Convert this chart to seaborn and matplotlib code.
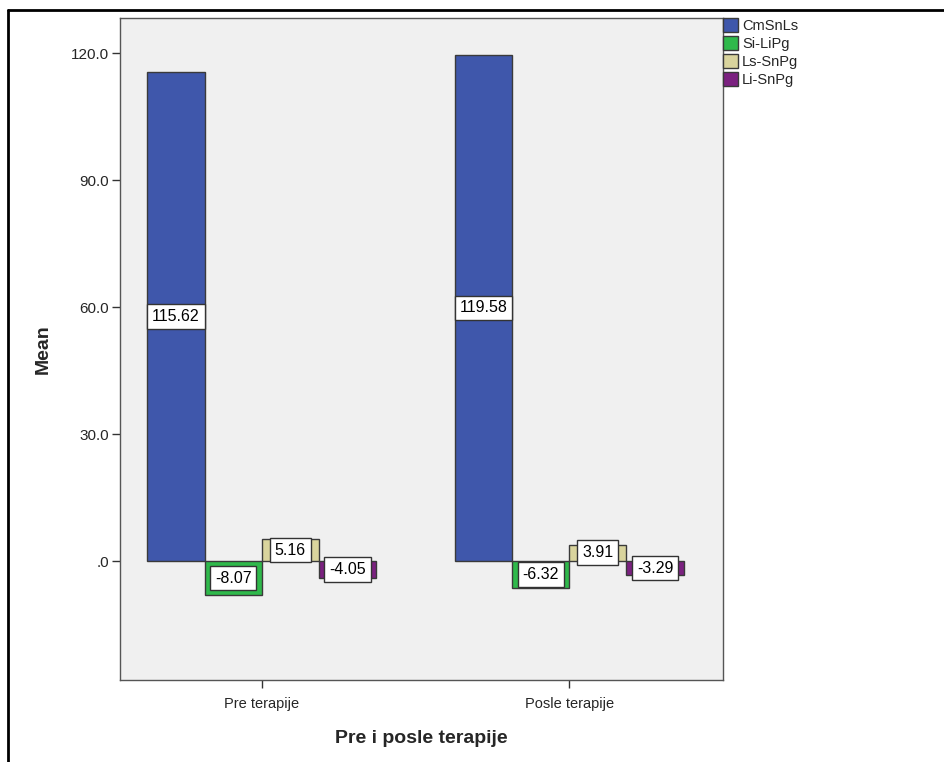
import pandas as pd
import matplotlib.pyplot as plt
import seaborn as sns
from matplotlib.lines import Line2D

# Data
groups = ['Pre terapije', 'Posle terapije']
measures = ['CmSnLs', 'Si-LiPg', 'Ls-SnPg', 'Li-SnPg']
pre_values = [115.62, -8.07, 5.16, -4.05]
post_values = [119.58, -6.32, 3.91, -3.29]
colors = ['#3F57AB', '#2FB94B', '#D9D49D', '#7B2180']

df = pd.DataFrame({
    'group': [groups[0]] * 4 + [groups[1]] * 4,
    'measure': measures * 2,
    'Mean': pre_values + post_values,
})

sns.set_style('white')
plt.rcParams['font.family'] = ['Liberation Sans', 'DejaVu Sans']

fig = plt.figure(figsize=(9.44, 7.62), dpi=100)
ax = fig.add_axes([120 / 944, 1 - 680 / 762, 603 / 944, 662 / 762])
ax.set_facecolor('#F0F0F0')

sns.barplot(data=df, x='group', y='Mean', hue='measure', order=groups,
            hue_order=measures, palette=colors, width=0.744, saturation=1,
            edgecolor='#3A3A3A', linewidth=1, ax=ax, errorbar=None)

# value labels in white boxes at bar centres
for cont in ax.containers:
    for bar in cont:
        h = bar.get_height()
        y = bar.get_y() + h / 2
        ax.text(bar.get_x() + bar.get_width() / 2, y, f'{bar.get_y() + h:.2f}',
                ha='center', va='center', fontsize=11.5, color='black',
                bbox=dict(boxstyle='square,pad=0.3', fc='white', ec='#333333', lw=1))

ax.set_xlim(-0.461, 0.5 + 1)
ax.set_ylim(-28.1, 128.3)
ax.set_yticks([0, 30, 60, 90, 120])
ax.set_yticklabels(['.0', '30.0', '60.0', '90.0', '120.0'], fontsize=11)
ax.tick_params(axis='y', left=True, length=6, width=1, color='#333333', pad=2)
ax.tick_params(axis='x', bottom=True, length=6, width=1, color='#333333', pad=6, labelsize=10.5)
for sp in ax.spines.values():
    sp.set_color('#555555')
    sp.set_linewidth(1)

ax.set_ylabel('Mean', fontsize=14, fontweight='bold', labelpad=14)
ax.set_xlabel('Pre i posle terapije', fontsize=14, fontweight='bold', labelpad=14)

ax.legend(loc='upper left', bbox_to_anchor=(1.0, 1.0), frameon=False,
          fontsize=10.5, handlelength=1.0, handleheight=1.1, handletextpad=0.3,
          labelspacing=0.2, borderaxespad=0.0, borderpad=0.0)

# outer frame lines (left and top)
fig.add_artist(Line2D([8 / 944, 8 / 944], [0, 1 - 10 / 762], color='black', lw=2, transform=fig.transFigure))
fig.add_artist(Line2D([8 / 944, 1], [1 - 10 / 762, 1 - 10 / 762], color='black', lw=2, transform=fig.transFigure))

fig.savefig('out.png', dpi=100)
